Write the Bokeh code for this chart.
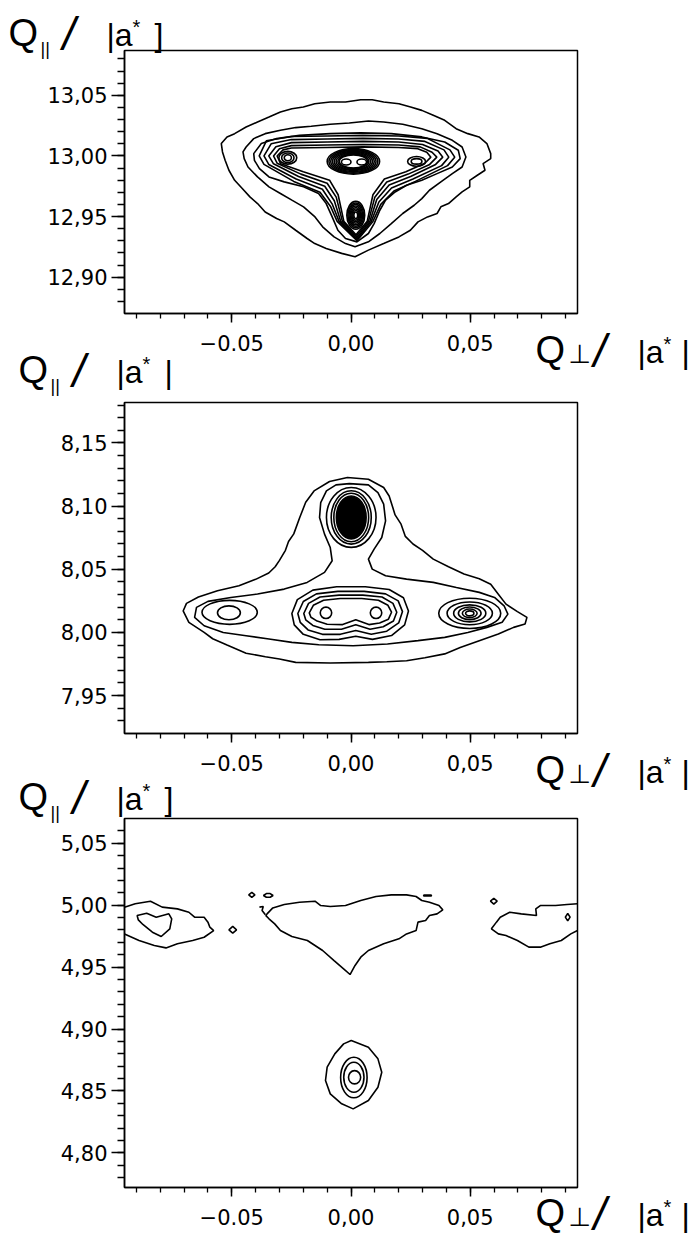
from bokeh.plotting import figure
from bokeh.models import FixedTicker, Range1d, Label, LinearAxis, BoxAnnotation
from bokeh.embed import file_html
from bokeh.resources import INLINE

# ---------------------------------------------------------------- axes data
X_RANGE = (-0.095, 0.095)
X_TICKS = [-0.05, 0.0, 0.05]
X_TICK_LABELS = ["\u22120.05", "0,00", "0,05"]
X_MINOR = [-0.09, -0.08, -0.07, -0.06, -0.05, -0.04, -0.03, -0.02, -0.01, 0.0,
           0.01, 0.02, 0.03, 0.04, 0.05, 0.06, 0.07, 0.08, 0.09]

P1_Y_RANGE = (12.870, 13.087)
P1_Y_TICKS = [12.90, 12.95, 13.00, 13.05]
P1_Y_TICK_LABELS = ["12,90", "12,95", "13,00", "13,05"]
P1_Y_MINOR = [12.88, 12.89, 12.90, 12.91, 12.92, 12.93, 12.94, 12.95, 12.96, 12.97, 12.98,
              12.99, 13.00, 13.01, 13.02, 13.03, 13.04, 13.05, 13.06, 13.07, 13.08]

P2_Y_RANGE = (7.920, 8.182)
P2_Y_TICKS = [7.95, 8.00, 8.05, 8.10, 8.15]
P2_Y_TICK_LABELS = ["7,95", "8,00", "8,05", "8,10", "8,15"]
P2_Y_MINOR = [7.93, 7.94, 7.95, 7.96, 7.97, 7.98, 7.99, 8.00, 8.01, 8.02, 8.03, 8.04, 8.05,
              8.06, 8.07, 8.08, 8.09, 8.10, 8.11, 8.12, 8.13, 8.14, 8.15, 8.16, 8.17, 8.18]

P3_Y_RANGE = (4.772, 5.070)
P3_Y_TICKS = [4.80, 4.85, 4.90, 4.95, 5.00, 5.05]
P3_Y_TICK_LABELS = ["4,80", "4,85", "4,90", "4,95", "5,00", "5,05"]
P3_Y_MINOR = [4.78, 4.79, 4.80, 4.81, 4.82, 4.83, 4.84, 4.85, 4.86, 4.87, 4.88, 4.89, 4.90,
              4.91, 4.92, 4.93, 4.94, 4.95, 4.96, 4.97, 4.98, 4.99, 5.00, 5.01, 5.02, 5.03,
              5.04, 5.05, 5.06]

# ---------------------------------------------------------------- panel 1 contours (Q_perp, Q_par)
P1_C1 = [(-0.0544, 13.0102), (-0.0520, 13.0157), (-0.0488, 13.0184), (-0.0440, 13.0239), (-0.0392, 13.0280),
         (-0.0344, 13.0321), (-0.0296, 13.0363), (-0.0248, 13.0390), (-0.0200, 13.0404), (-0.0152, 13.0431),
         (-0.0087, 13.0445), (-0.0023, 13.0445), (0.0041, 13.0464), (0.0089, 13.0464), (0.0137, 13.0445),
         (0.0201, 13.0431), (0.0250, 13.0404), (0.0297, 13.0376), (0.0345, 13.0335), (0.0393, 13.0294),
         (0.0441, 13.0225), (0.0490, 13.0184), (0.0537, 13.0157), (0.0570, 13.0102), (0.0586, 13.0019),
         (0.0586, 12.9978), (0.0554, 12.9937), (0.0562, 12.9882), (0.0530, 12.9841), (0.0498, 12.9799),
         (0.0498, 12.9745), (0.0466, 12.9703), (0.0441, 12.9662), (0.0409, 12.9607), (0.0377, 12.9580),
         (0.0361, 12.9525), (0.0321, 12.9497), (0.0281, 12.9456), (0.0249, 12.9387), (0.0201, 12.9332),
         (0.0137, 12.9277), (0.0073, 12.9223), (0.0017, 12.9168), (-0.0039, 12.9196), (-0.0104, 12.9236),
         (-0.0152, 12.9277), (-0.0184, 12.9319), (-0.0232, 12.9387), (-0.0280, 12.9456), (-0.0312, 12.9484),
         (-0.0360, 12.9538), (-0.0392, 12.9607), (-0.0424, 12.9662), (-0.0456, 12.9731), (-0.0488, 12.9799),
         (-0.0512, 12.9882), (-0.0528, 12.9964), (-0.0539, 13.0033)]
P1_C2 = [(-0.0453, 13.0033), (-0.0440, 13.0074), (-0.0408, 13.0143), (-0.0360, 13.0184), (-0.0296, 13.0212),
         (-0.0232, 13.0234), (-0.0167, 13.0245), (-0.0087, 13.0261), (-0.0007, 13.0272), (0.0073, 13.0288),
         (0.0137, 13.0280), (0.0217, 13.0261), (0.0297, 13.0225), (0.0361, 13.0184), (0.0425, 13.0129),
         (0.0466, 13.0074), (0.0482, 12.9992), (0.0466, 12.9909), (0.0425, 12.9854), (0.0377, 12.9786),
         (0.0329, 12.9717), (0.0297, 12.9648), (0.0265, 12.9593), (0.0217, 12.9525), (0.0169, 12.9442),
         (0.0121, 12.9360), (0.0073, 12.9291), (0.0017, 12.9250), (-0.0023, 12.9277), (-0.0071, 12.9332),
         (-0.0119, 12.9415), (-0.0151, 12.9497), (-0.0199, 12.9580), (-0.0248, 12.9635), (-0.0296, 12.9690),
         (-0.0344, 12.9745), (-0.0392, 12.9827), (-0.0432, 12.9909), (-0.0448, 12.9978)]
P1_C3 = [(-0.0408, 13.0019), (-0.0376, 13.0102), (-0.0312, 13.0143), (-0.0216, 13.0170), (-0.0087, 13.0184),
         (0.0041, 13.0190), (0.0169, 13.0184), (0.0297, 13.0157), (0.0393, 13.0115), (0.0450, 13.0047),
         (0.0458, 12.9978), (0.0425, 12.9909), (0.0361, 12.9854), (0.0297, 12.9799), (0.0233, 12.9758),
         (0.0185, 12.9703), (0.0145, 12.9635), (0.0121, 12.9552), (0.0097, 12.9442), (0.0073, 12.9360),
         (0.0025, 12.9291), (-0.0023, 12.9319), (-0.0055, 12.9387), (-0.0079, 12.9497), (-0.0104, 12.9607),
         (-0.0136, 12.9690), (-0.0199, 12.9745), (-0.0280, 12.9786), (-0.0344, 12.9827), (-0.0384, 12.9896),
         (-0.0405, 12.9964)]
P1_C4 = [(-0.0385, 13.000), (-0.0355, 13.0125), (-0.025, 13.016), (-0.010, 13.0165), (0.005, 13.017),
         (0.020, 13.0165), (0.032, 13.0145), (0.0415, 13.005), (0.0435, 12.999), (0.0405, 12.992),
         (0.027, 12.979), (0.018, 12.971), (0.0125, 12.960), (0.0092, 12.946), (0.0025, 12.9300),
         (-0.0058, 12.946), (-0.0085, 12.958), (-0.013, 12.970), (-0.024, 12.979), (-0.0365, 12.993)]
P1_C5 = [(-0.0365, 13.000), (-0.0335, 13.010), (-0.025, 13.0135), (-0.010, 13.014), (0.005, 13.0145),
         (0.020, 13.014), (0.031, 13.012), (0.039, 13.005), (0.041, 12.999), (0.038, 12.992),
         (0.026, 12.981), (0.017, 12.9735), (0.0117, 12.962), (0.0085, 12.946), (0.0024, 12.9310),
         (-0.0050, 12.946), (-0.0078, 12.960), (-0.012, 12.9725), (-0.023, 12.981), (-0.0345, 12.993)]
P1_C6 = [(-0.0345, 13.000), (-0.0315, 13.0075), (-0.025, 13.011), (-0.010, 13.0115), (0.005, 13.012),
         (0.020, 13.0115), (0.030, 13.0095), (0.0365, 13.004), (0.0385, 12.999), (0.0355, 12.993),
         (0.025, 12.983), (0.016, 12.976), (0.0108, 12.964), (0.0079, 12.946), (0.0023, 12.9320),
         (-0.0043, 12.946), (-0.0070, 12.963), (-0.011, 12.975), (-0.022, 12.983), (-0.0325, 12.9935)]
P1_C7 = [(-0.0325, 13.000), (-0.030, 13.006), (-0.025, 13.0085), (-0.010, 13.009), (0.005, 13.0095),
         (0.020, 13.009), (0.029, 13.0075), (0.034, 13.003), (0.036, 12.999), (0.033, 12.993),
         (0.024, 12.985), (0.015, 12.9785), (0.0100, 12.966), (0.0073, 12.946), (0.0022, 12.9335),
         (-0.0036, 12.946), (-0.0062, 12.966), (-0.010, 12.9775), (-0.021, 12.985), (-0.031, 12.994)]
P1_C8 = [(-0.031, 13.000), (-0.0285, 13.005), (-0.025, 13.0065), (-0.010, 13.007), (0.005, 13.0075),
         (0.020, 13.007), (0.028, 13.006), (0.0318, 13.003), (0.0335, 12.999), (0.031, 12.994),
         (0.023, 12.987), (0.014, 12.981), (0.0092, 12.968), (0.0068, 12.946), (0.0021, 12.935),
         (-0.0030, 12.946), (-0.0054, 12.968), (-0.009, 12.980), (-0.020, 12.987), (-0.0295, 12.9935)]
# closed rings around the maxima of panel 1: centre x, centre y, width, height
P1_RING_X = [-0.0265, -0.0265, -0.0265,
             0.001, 0.001, 0.001, 0.001, 0.001, 0.001, 0.001, 0.001, -0.002, 0.0045,
             0.0020, 0.0020, 0.0020, 0.0020, 0.0020, 0.0020, 0.0020, 0.0020,
             0.0275, 0.0275]
P1_RING_Y = [12.9985, 12.9985, 12.9985,
             12.9955, 12.9955, 12.9955, 12.9955, 12.9955, 12.9955, 12.9955, 12.9955, 12.995, 12.995,
             12.951, 12.951, 12.951, 12.951, 12.951, 12.951, 12.951, 12.951,
             12.9955, 12.9955]
P1_RING_W = [0.0075, 0.0052, 0.0030,
             0.022, 0.0205, 0.019, 0.0175, 0.016, 0.0145, 0.013, 0.0118, 0.004, 0.004,
             0.0075, 0.0066, 0.0057, 0.0048, 0.0040, 0.0032, 0.0024, 0.0016,
             0.0075, 0.0045]
P1_RING_H = [0.0105, 0.0078, 0.0050,
             0.021, 0.0195, 0.018, 0.0165, 0.015, 0.0135, 0.012, 0.0108, 0.005, 0.005,
             0.023, 0.0205, 0.018, 0.0155, 0.013, 0.0105, 0.008, 0.0055,
             0.008, 0.0045]

# ---------------------------------------------------------------- panel 2 contours
P2_C1 = [(-0.0015, 8.1226), (0.0073, 8.1213), (0.0137, 8.1147), (0.0160, 8.1080), (0.0175, 8.0990),
         (0.0185, 8.0930), (0.0210, 8.0857), (0.0228, 8.0760), (0.0260, 8.0700), (0.0300, 8.0650),
         (0.0345, 8.0580), (0.0409, 8.0520), (0.0474, 8.0462), (0.0538, 8.0425), (0.0586, 8.0382),
         (0.0618, 8.0303), (0.0650, 8.0224), (0.0698, 8.0165), (0.0738, 8.0119), (0.0730, 8.0066),
         (0.0682, 8.0040), (0.0618, 7.9987), (0.0538, 7.9935), (0.0458, 7.9880), (0.0393, 7.9830),
         (0.0310, 7.9800), (0.0233, 7.9776), (0.0150, 7.9768), (0.0073, 7.9763), (-0.0087, 7.9758),
         (-0.0232, 7.9763), (-0.0300, 7.9790), (-0.0359, 7.9808), (-0.0440, 7.9835), (-0.0520, 7.9900),
         (-0.0580, 7.9950), (-0.0616, 8.0000), (-0.0680, 8.0080), (-0.0704, 8.0170), (-0.0690, 8.0230),
         (-0.0640, 8.0280), (-0.0560, 8.0330), (-0.0470, 8.0370), (-0.0400, 8.0420), (-0.0345, 8.0470),
         (-0.0318, 8.0520), (-0.0300, 8.0570), (-0.0275, 8.0650), (-0.0262, 8.0720), (-0.0240, 8.0780),
         (-0.0215, 8.0910), (-0.0190, 8.1030), (-0.0155, 8.1120), (-0.0090, 8.1195)]
P2_C2 = [(-0.0007, 8.1178), (0.0073, 8.1168), (0.0113, 8.1107), (0.0137, 8.1015), (0.0145, 8.0883),
         (0.0129, 8.0751), (0.0097, 8.0659), (0.0073, 8.0580), (0.0089, 8.0501), (0.0145, 8.0448),
         (0.0233, 8.0422), (0.0345, 8.0396), (0.0442, 8.0356), (0.0538, 8.0317), (0.0602, 8.0277),
         (0.0642, 8.0211), (0.0658, 8.0145), (0.0634, 8.0080), (0.0570, 8.0040), (0.0490, 8.0000),
         (0.0393, 7.9961), (0.0281, 7.9935), (0.0153, 7.9908), (0.0009, 7.9895), (-0.0135, 7.9903),
         (-0.0248, 7.9921), (-0.0344, 7.9948), (-0.0440, 7.9974), (-0.0536, 8.0000), (-0.0616, 8.0053),
         (-0.0656, 8.0119), (-0.0648, 8.0198), (-0.0600, 8.0246), (-0.0504, 8.0277), (-0.0392, 8.0304),
         (-0.0280, 8.0343), (-0.0184, 8.0396), (-0.0111, 8.0475), (-0.0079, 8.0567), (-0.0087, 8.0672),
         (-0.0111, 8.0778), (-0.0132, 8.0910), (-0.0127, 8.1028), (-0.0103, 8.1120), (-0.0063, 8.1168)]
P2_K1 = [(-0.0248, 8.0150), (-0.0225, 8.0260), (-0.0160, 8.0335), (-0.0060, 8.0361), (0.0060, 8.0361),
         (0.0160, 8.0340), (0.0220, 8.0275), (0.0241, 8.0170), (0.0225, 8.0060), (0.0170, 7.9975),
         (0.0090, 7.9945), (0.0020, 7.9970), (-0.0050, 7.9945), (-0.0130, 7.9942), (-0.0200, 7.9985),
         (-0.0238, 8.0060)]
P2_K2 = [(-0.0223, 8.0150), (-0.0200, 8.0245), (-0.0145, 8.0305), (-0.0055, 8.0325), (0.0055, 8.0325),
         (0.0145, 8.0305), (0.0198, 8.0250), (0.0216, 8.0165), (0.0200, 8.0075), (0.0150, 8.0010),
         (0.0085, 7.9985), (0.0020, 8.0015), (-0.0045, 7.9985), (-0.0120, 7.9985), (-0.0180, 8.0020),
         (-0.0213, 8.0080)]
P2_K3 = [(-0.0198, 8.0150), (-0.0178, 8.0230), (-0.0130, 8.0280), (-0.0050, 8.0295), (0.0050, 8.0295),
         (0.0130, 8.0280), (0.0176, 8.0230), (0.0192, 8.0160), (0.0178, 8.0090), (0.0135, 8.0045),
         (0.0080, 8.0025), (0.0020, 8.0060), (-0.0040, 8.0025), (-0.0110, 8.0025), (-0.0160, 8.0055),
         (-0.0190, 8.0100)]
P2_K4 = [(-0.0175, 8.0155), (-0.0158, 8.0215), (-0.0115, 8.0255), (-0.0045, 8.0268), (0.0045, 8.0268),
         (0.0115, 8.0255), (0.0155, 8.0215), (0.0170, 8.0160), (0.0157, 8.0105), (0.0120, 8.0075),
         (0.0075, 8.0062), (0.0020, 8.0100), (-0.0035, 8.0062), (-0.0100, 8.0065), (-0.0142, 8.0090),
         (-0.0168, 8.0120)]
P2_RING_X = [0.0001, 0.0001, 0.0001, -0.0509, -0.0512, -0.0105, 0.0105,
             0.0498, 0.0498, 0.0498, 0.0498, 0.0498, 0.0498]
P2_RING_Y = [8.0910, 8.0910, 8.0910, 8.0159, 8.0155, 8.0155, 8.0155,
             8.0151, 8.0151, 8.0151, 8.0151, 8.0151, 8.0151]
P2_RING_W = [0.0208, 0.0168, 0.0146, 0.0232, 0.0096, 0.0048, 0.0048,
             0.026, 0.019, 0.0135, 0.0095, 0.0062, 0.0035]
P2_RING_H = [0.0474, 0.0422, 0.0385, 0.0190, 0.0110, 0.0090, 0.0090,
             0.024, 0.018, 0.0135, 0.0100, 0.0068, 0.0040]
P2_CORE = (0.0001, 8.0910, 0.0125, 0.0340)

# ---------------------------------------------------------------- panel 3 contours
P3_LEFT_OUTER = [(-0.0950, 4.9984), (-0.0905, 5.0011), (-0.0841, 5.0032), (-0.0792, 4.9984),
                 (-0.0728, 4.9970), (-0.0680, 4.9943), (-0.0656, 4.9903), (-0.0616, 4.9903), (-0.0600, 4.9863),
                 (-0.0592, 4.9822), (-0.0576, 4.9795), (-0.0616, 4.9741), (-0.0664, 4.9715), (-0.0728, 4.9688),
                 (-0.0776, 4.9655), (-0.0825, 4.9674), (-0.0889, 4.9715), (-0.0950, 4.9768)]
P3_RIGHT = [(0.0950, 5.0011), (0.0906, 5.0005), (0.0858, 4.9997), (0.0794, 4.9997),
            (0.0775, 4.9970), (0.0778, 4.9916), (0.0714, 4.9930), (0.0666, 4.9943), (0.0626, 4.9903),
            (0.0610, 4.9863), (0.0589, 4.9809), (0.0618, 4.9768), (0.0650, 4.9755), (0.0698, 4.9715),
            (0.0746, 4.9661), (0.0794, 4.9661), (0.0834, 4.9688), (0.0882, 4.9715), (0.0922, 4.9768),
            (0.0950, 4.9795)]
P3_HOOK = [(-0.0384, 4.9984), (-0.0368, 4.9989), (-0.0373, 4.9957), (-0.0359, 4.9922)]
P3_LEFT_INNER = [(-0.0897, 4.9916), (-0.0857, 4.9935), (-0.0817, 4.9903), (-0.0764, 4.9930), (-0.0752, 4.9889),
                 (-0.0760, 4.9809), (-0.0796, 4.9747), (-0.0833, 4.9782), (-0.0873, 4.9844), (-0.0892, 4.9881)]
P3_CENTER = [(-0.0352, 4.9930), (-0.0328, 4.9978), (-0.0280, 5.0005), (-0.0216, 5.0024), (-0.0151, 5.0032),
             (-0.0127, 4.9997), (-0.0087, 4.9989), (-0.0023, 4.9997), (0.0041, 5.0038), (0.0105, 5.0070),
             (0.0169, 5.0083), (0.0233, 5.0083), (0.0273, 5.0070), (0.0297, 5.0038), (0.0329, 5.0024),
             (0.0369, 4.9997), (0.0385, 4.9962), (0.0361, 4.9930), (0.0329, 4.9916), (0.0313, 4.9876),
             (0.0281, 4.9863), (0.0273, 4.9795), (0.0233, 4.9768), (0.0201, 4.9728), (0.0137, 4.9688),
             (0.0073, 4.9634), (0.0041, 4.9580), (0.0017, 4.9513), (-0.0004, 4.9440), (-0.0031, 4.9486),
             (-0.0071, 4.9553), (-0.0119, 4.9634), (-0.0183, 4.9715), (-0.0248, 4.9747), (-0.0296, 4.9795),
             (-0.0320, 4.9849), (-0.0344, 4.9890), (-0.0357, 4.9916)]
P3_DOT1 = [(-0.0512, 4.9801), (-0.0496, 4.9828), (-0.0480, 4.9801), (-0.0496, 4.9774)]
P3_DOT2 = [(-0.0429, 5.0083), (-0.0416, 5.0103), (-0.0403, 5.0083), (-0.0416, 5.0063)]
P3_DOT3 = [(-0.0367, 5.0078), (-0.0355, 5.0094), (-0.0339, 5.0094), (-0.0327, 5.0078), (-0.0339, 5.0064), (-0.0355, 5.0064)]
P3_DASH = [(0.0305, 5.0081), (0.0337, 5.0081), (0.0337, 5.0075), (0.0305, 5.0075)]
P3_DOT4 = [(0.0585, 5.0032), (0.0599, 5.0056), (0.0613, 5.0032), (0.0599, 5.0008)]
P3_DOT5 = [(0.0899, 4.9903), (0.0909, 4.9933), (0.0919, 4.9903), (0.0909, 4.9873)]
P3_PEAK_OUTER = [(0.0001, 4.8907), (0.0073, 4.8853), (0.0113, 4.8759), (0.0129, 4.8651), (0.0113, 4.8530),
                 (0.0073, 4.8423), (0.0009, 4.8355), (-0.0039, 4.8396), (-0.0087, 4.8476), (-0.0107, 4.8584),
                 (-0.0100, 4.8692), (-0.0068, 4.8799), (-0.0031, 4.8880)]
P3_RING_X = [0.0012, 0.0012, 0.0015]
P3_RING_Y = [4.8608, 4.8610, 4.8610]
P3_RING_W = [0.0111, 0.0085, 0.0051]
P3_RING_H = [0.0328, 0.0242, 0.0107]

# ---------------------------------------------------------------- page layout (pixels)
W, H = 697, 1239
BOX_L, BOX_R = 124, 577
BOX_1 = (50, 313)      # top, bottom of panel frames on the page
BOX_2 = (402, 733)
BOX_3 = (818, 1187)
LINE_W = 1.6

sx = (X_RANGE[1] - X_RANGE[0]) / (BOX_R - BOX_L)
x_rng = Range1d(X_RANGE[0] - BOX_L * sx, X_RANGE[1] + (W - BOX_R) * sx)


def y_rng(yr, box):
    top, bottom = box
    s = (yr[1] - yr[0]) / (bottom - top)
    return Range1d(yr[0] - (H - bottom) * s, yr[1] + top * s)


p = figure(width=W, height=H, title=None, x_range=x_rng, y_range=y_rng(P1_Y_RANGE, BOX_1),
           x_axis_location=None, y_axis_location=None,
           min_border_left=0, min_border_right=0, min_border_top=0, min_border_bottom=0,
           output_backend="svg", toolbar_location=None)
p.extra_y_ranges = {"p2": y_rng(P2_Y_RANGE, BOX_2), "p3": y_rng(P3_Y_RANGE, BOX_3)}
p.outline_line_color = None
p.background_fill_color = "white"
p.border_fill_color = "white"
p.xgrid.visible = False
p.ygrid.visible = False


def add_panel_axes(name, yr, yticks, ylabels, yminor):
    ya = LinearAxis(y_range_name=name, fixed_location=X_RANGE[0], bounds=yr,
                    ticker=FixedTicker(ticks=yticks, minor_ticks=yminor),
                    major_label_overrides=dict(zip(yticks, ylabels)))
    xa = LinearAxis(y_range_name=name, fixed_location=yr[0], bounds=X_RANGE,
                    ticker=FixedTicker(ticks=X_TICKS, minor_ticks=X_MINOR),
                    major_label_overrides=dict(zip(X_TICKS, X_TICK_LABELS)))
    for ax in (xa, ya):
        ax.axis_line_color = "black"
        ax.axis_line_width = 1.5
        ax.major_tick_line_color = "black"
        ax.major_tick_line_width = 1.5
        ax.minor_tick_line_color = "black"
        ax.minor_tick_line_width = 1.3
        ax.major_tick_in = 0
        ax.minor_tick_in = 0
        ax.major_label_text_font = "DejaVu Sans"
        ax.major_label_text_font_size = "21px"
        ax.major_label_text_color = "black"
    xa.major_tick_out = 9
    xa.minor_tick_out = 5
    xa.major_label_standoff = 12
    ya.major_tick_out = 13
    ya.minor_tick_out = 7
    ya.major_label_standoff = 4
    p.add_layout(ya, "left")
    p.add_layout(xa, "below")
    p.add_layout(BoxAnnotation(left=X_RANGE[0], right=X_RANGE[1], bottom=yr[0], top=yr[1],
                               y_range_name=name, fill_color=None, fill_alpha=0,
                               line_color="black", line_alpha=1.0, line_width=1.5))


def draw_closed(polys, name):
    xs = [[pt[0] for pt in poly] for poly in polys]
    ys = [[pt[1] for pt in poly] for poly in polys]
    p.patches(xs=xs, ys=ys, fill_color=None, line_color="black", line_width=LINE_W, y_range_name=name)


def draw_open(lines, name):
    xs = [[pt[0] for pt in ln] for ln in lines]
    ys = [[pt[1] for pt in ln] for ln in lines]
    p.multi_line(xs=xs, ys=ys, line_color="black", line_width=LINE_W, y_range_name=name)


def draw_rings(xs, ys, ws, hs, name, fill=None):
    p.ellipse(x=xs, y=ys, width=ws, height=hs, fill_color=fill,
              line_color="black", line_width=LINE_W, y_range_name=name)


def add_text(px, base, text, size, font="Liberation Sans", style="normal"):
    # px: page x of the text start; base: page y of the text baseline
    mid = base - 0.35 * size
    p.add_layout(Label(x=px, y=H - mid, x_units="screen", y_units="screen", text=text,
                       text_font=font, text_font_size=f"{size}px", text_font_style=style,
                       text_color="black", text_align="left", text_baseline="middle"))


def par_label(x0, y0, closer):
    add_text(x0, y0, "Q", 38)
    add_text(x0 + 32, y0 + 9, "||", 18)
    add_text(x0 + 54, y0 + 4, "/", 46, style="italic")
    add_text(x0 + 98, y0, "|a", 32)
    add_text(x0 + 124, y0 - 13, "*", 20)
    add_text(x0 + 146, y0, closer, 32)


def perp_label(x0, y0):
    add_text(x0, y0, "Q", 38)
    add_text(x0 + 33, y0, "\u22a5", 26, font="DejaVu Sans")
    add_text(x0 + 58, y0 + 4, "/", 46, style="italic")
    add_text(x0 + 102, y0, "|a", 32)
    add_text(x0 + 128, y0 - 13, "*", 20)
    add_text(x0 + 146, y0, "|", 32)


# ---------------------------------------------------------------- panel 1
add_panel_axes("default", P1_Y_RANGE, P1_Y_TICKS, P1_Y_TICK_LABELS, P1_Y_MINOR)
draw_closed([P1_C1, P1_C2, P1_C3, P1_C4, P1_C5, P1_C6, P1_C7, P1_C8], "default")
draw_rings(P1_RING_X, P1_RING_Y, P1_RING_W, P1_RING_H, "default")
par_label(8, 46, "]")
perp_label(535, BOX_1[1] + 50)

# ---------------------------------------------------------------- panel 2
add_panel_axes("p2", P2_Y_RANGE, P2_Y_TICKS, P2_Y_TICK_LABELS, P2_Y_MINOR)
draw_closed([P2_C1, P2_C2, P2_K1, P2_K2, P2_K3, P2_K4], "p2")
draw_rings(P2_RING_X, P2_RING_Y, P2_RING_W, P2_RING_H, "p2")
draw_rings([P2_CORE[0]], [P2_CORE[1]], [P2_CORE[2]], [P2_CORE[3]], "p2", fill="black")
par_label(18, 383, "|")
perp_label(535, BOX_2[1] + 50)

# ---------------------------------------------------------------- panel 3
add_panel_axes("p3", P3_Y_RANGE, P3_Y_TICKS, P3_Y_TICK_LABELS, P3_Y_MINOR)
draw_open([P3_LEFT_OUTER, P3_RIGHT, P3_HOOK], "p3")
draw_closed([P3_LEFT_INNER, P3_CENTER, P3_DOT1, P3_DOT2, P3_DOT3, P3_DASH, P3_DOT4, P3_DOT5,
             P3_PEAK_OUTER], "p3")
draw_rings(P3_RING_X, P3_RING_Y, P3_RING_W, P3_RING_H, "p3")
par_label(18, 810, "]")
perp_label(535, BOX_3[1] + 39)

open("out.html", "w").write(file_html(p, INLINE))
